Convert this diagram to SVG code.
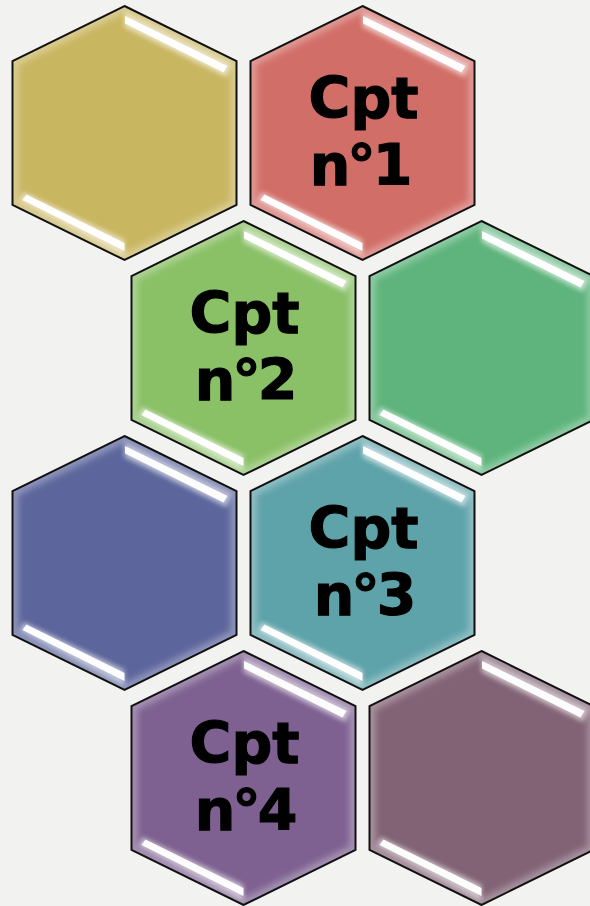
<svg xmlns="http://www.w3.org/2000/svg" width="590" height="906" viewBox="0 0 590 906">
  <defs>
    <!-- one hexagon, local box 224 x 254 -->
    <path id="hex" d="M112,0 L224,55 L224,199 L112,254 L0,199 L0,55 Z"/>
    <clipPath id="hexClip">
      <use href="#hex"/>
    </clipPath>
    <filter id="edgeGlow" x="-10%" y="-10%" width="120%" height="120%">
      <feGaussianBlur stdDeviation="3"/>
    </filter>
    <filter id="shineHalo" x="-20%" y="-60%" width="140%" height="220%">
      <feGaussianBlur stdDeviation="2.4"/>
    </filter>
    <filter id="shineCore" x="-20%" y="-60%" width="140%" height="220%">
      <feGaussianBlur stdDeviation="0.6"/>
    </filter>
    <!-- glossy cell: fill comes from the enclosing group -->
    <g id="cell">
      <use href="#hex"/>
      <g clip-path="url(#hexClip)">
        <use href="#hex" fill="none" stroke="#ffffff" stroke-opacity="0.3" stroke-width="12" filter="url(#edgeGlow)"/>
        <polygon class="halo" points="112,6 219,58 214,71 112,21" filter="url(#shineHalo)"/>
        <polygon class="halo" points="7,195 11,186 112,234 112,250" filter="url(#shineHalo)"/>
        <polygon class="core" points="112.5,10 215,60 211,66.5 112.5,17.5" filter="url(#shineCore)"/>
        <polygon class="core" points="10,194 14,188.5 112,237 112,245" filter="url(#shineCore)"/>
      </g>
      <use href="#hex" fill="none" stroke="#111111" stroke-width="2" stroke-linejoin="miter"/>
    </g>
  </defs>
  <style>
    .halo { fill: #ffffff; opacity: 0.6; }
    .core { fill: #ffffff; opacity: 0.97; }
    .label { font-family: "DejaVu Sans", "Liberation Sans", sans-serif; font-weight: bold; font-size: 57px; fill: #000000; stroke: #000000; stroke-width: 1.2px; text-anchor: middle; }
    .num { letter-spacing: -3px; }
  </style>

  <rect width="590" height="906" fill="#F2F2F0"/>

  <g id="hex-gold" transform="translate(12.5,6)" fill="#C9B661">
    <use href="#cell"/>
  </g>

  <g id="hex-cpt1" transform="translate(250.5,6)" fill="#D26E68">
    <use href="#cell"/>
    <text class="label" x="113" y="112">Cpt</text>
    <text class="label num" x="109" y="179">n°1</text>
  </g>

  <g id="hex-cpt2" transform="translate(131.5,221)" fill="#8AC066">
    <use href="#cell"/>
    <text class="label" x="113" y="112">Cpt</text>
    <text class="label num" x="113" y="179">n°2</text>
  </g>

  <g id="hex-green" transform="translate(369.5,221)" fill="#5EB47C">
    <use href="#cell"/>
  </g>

  <g id="hex-blue" transform="translate(12.5,436)" fill="#5D669C">
    <use href="#cell"/>
  </g>

  <g id="hex-cpt3" transform="translate(250.5,436)" fill="#5FA3AA">
    <use href="#cell"/>
    <text class="label" x="113" y="112">Cpt</text>
    <text class="label num" x="113" y="179">n°3</text>
  </g>

  <g id="hex-cpt4" transform="translate(131.5,651)" fill="#7E6191">
    <use href="#cell"/>
    <text class="label" x="113" y="112">Cpt</text>
    <text class="label num" x="113" y="179">n°4</text>
  </g>

  <g id="hex-mauve" transform="translate(369.5,651)" fill="#826375">
    <use href="#cell"/>
  </g>
</svg>
